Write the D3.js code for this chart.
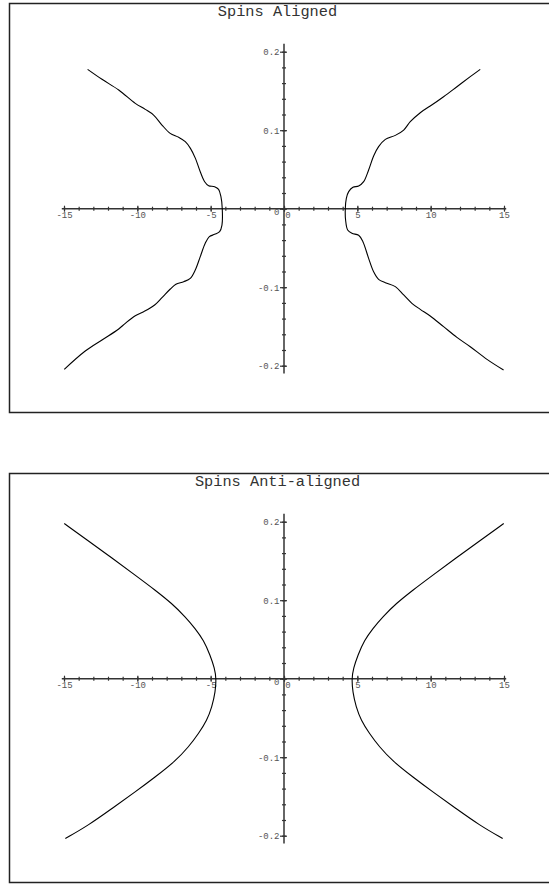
<!DOCTYPE html>
<html>
<head>
<meta charset="utf-8">
<script src="https://cdn.jsdelivr.net/npm/d3@7"></script>
<style>
  body { margin: 0; background: #fff; }
  svg { display: block; }
</style>
</head>
<body>
<svg id="chart" width="549" height="884"></svg>
<script>
// titles and tick labels
const titles = ["Spins Aligned", "Spins Anti-aligned"];
const xLabels = [-15, -10, -5, 0, 5, 10, 15];
const yLabels = [-0.2, -0.1, 0, 0.1, 0.2];

// curves, [x, y]
const alignedLeft = [
    [-13.39, 0.1775], [-12.41, 0.1648], [-11.27, 0.1512], [-10.14, 0.1342], [-9.46, 0.1265],
    [-8.89, 0.1193], [-8.32, 0.1066], [-7.76, 0.0960], [-7.18, 0.0909], [-6.73, 0.0854],
    [-6.38, 0.0769], [-6.04, 0.0641], [-5.71, 0.0471], [-5.41, 0.0344], [-5.14, 0.0293],
    [-4.73, 0.0281], [-4.46, 0.0246], [-4.30, 0.0153], [-4.21, 0.0],
    [-4.23, -0.0208], [-4.39, -0.0293], [-4.73, -0.0327], [-5.09, -0.0356], [-5.37, -0.0441],
    [-5.71, -0.0611], [-6.05, -0.0781], [-6.39, -0.0887], [-6.84, -0.0930], [-7.37, -0.0963],
    [-7.75, -0.1023], [-8.32, -0.1133], [-8.82, -0.1227], [-9.57, -0.1312], [-10.14, -0.1363],
    [-10.82, -0.1460], [-11.27, -0.1533], [-12.41, -0.1673], [-13.55, -0.1813], [-14.98, -0.2046]
];
const alignedRight = [
    [13.38, 0.1775], [12.70, 0.1682], [11.79, 0.1554], [10.88, 0.1427], [9.97, 0.1308],
    [9.29, 0.1223], [8.61, 0.1108], [8.16, 0.1002], [7.59, 0.0934], [6.91, 0.0883],
    [6.45, 0.0790], [6.11, 0.0671], [5.77, 0.0493], [5.43, 0.0344], [5.09, 0.0289],
    [4.70, 0.0272], [4.41, 0.0217], [4.25, 0.0132], [4.18, 0.0],
    [4.20, -0.0144], [4.34, -0.0271], [4.63, -0.0314], [5.09, -0.0339], [5.38, -0.0420],
    [5.77, -0.0632], [6.11, -0.0802], [6.45, -0.0900], [6.91, -0.0942], [7.59, -0.0993],
    [8.16, -0.1099], [8.72, -0.1205], [9.29, -0.1282], [9.97, -0.1367], [10.88, -0.1503],
    [11.79, -0.1639], [12.70, -0.1758], [13.84, -0.1919], [14.97, -0.2055]
];
const antiLeft = [
    [-14.98, 0.1977], [-13.32, 0.1752], [-11.73, 0.1539], [-10.14, 0.1318], [-8.77, 0.1127],
    [-7.64, 0.0958], [-6.73, 0.0788], [-6.05, 0.0639], [-5.48, 0.0490], [-5.03, 0.0299],
    [-4.73, 0.0130], [-4.62, 0.0],
    [-4.68, -0.0168], [-4.91, -0.0359], [-5.25, -0.0529], [-5.82, -0.0698], [-6.50, -0.0868],
    [-7.41, -0.1051], [-8.77, -0.1251], [-10.14, -0.1442], [-11.73, -0.1654], [-13.32, -0.1866],
    [-14.91, -0.2036]
];
const antiRight = [
    [14.98, 0.1977], [13.32, 0.1752], [11.73, 0.1539], [10.14, 0.1318], [8.77, 0.1127],
    [7.64, 0.0958], [6.73, 0.0788], [6.05, 0.0639], [5.48, 0.0490], [5.03, 0.0299],
    [4.73, 0.0130], [4.62, 0.0],
    [4.68, -0.0168], [4.91, -0.0359], [5.25, -0.0529], [5.82, -0.0698], [6.50, -0.0868],
    [7.41, -0.1051], [8.77, -0.1251], [10.14, -0.1442], [11.73, -0.1654], [13.32, -0.1866],
    [14.91, -0.2036]
];

const panels = [
    { title: titles[0], curves: [alignedLeft, alignedRight], curve: d3.curveCatmullRom },
    { title: titles[1], curves: [antiLeft, antiRight], curve: d3.curveBasis }
];

const svg = d3.select('#chart');
const panelStep = 470;
const mono = '"Liberation Mono", "DejaVu Sans Mono", monospace';

const x = d3.scaleLinear().domain([-15, 15]).range([64, 504]);
const y = d3.scaleLinear().domain([-0.2, 0.2]).range([365.7, 51.7]);

panels.forEach(function(p, i) {
    const g = svg.append('g')
        .attr('transform', `translate(0,${i * panelStep})`);

    // frame (right side runs off the page)
    g.append('rect')
        .attr('x', 9.5)
        .attr('y', 3.5)
        .attr('width', 560)
        .attr('height', 409)
        .attr('fill', 'none')
        .attr('stroke', '#222')
        .attr('stroke-width', 1.5);

    g.append('text')
        .attr('x', 277.5)
        .attr('y', 15.5)
        .attr('text-anchor', 'middle')
        .attr('font-family', mono)
        .attr('font-size', 15.3)
        .attr('fill', '#333')
        .text(p.title);

    // axis lines crossing at the origin
    g.append('line')
        .attr('x1', x(-15.15)).attr('x2', x(15.15))
        .attr('y1', y(0)).attr('y2', y(0))
        .attr('stroke', '#333').attr('stroke-width', 1.5);
    g.append('line')
        .attr('x1', x(0)).attr('x2', x(0))
        .attr('y1', y(0.21)).attr('y2', y(-0.21))
        .attr('stroke', '#333').attr('stroke-width', 1.5);

    // x minor ticks
    const xMinor = g.append('g')
        .attr('transform', `translate(0,${y(0)})`)
        .call(d3.axisBottom(x).tickValues(x.ticks(30)).tickSize(2).tickFormat(''));
    xMinor.select('.domain').remove();
    xMinor.selectAll('line').attr('y1', -2).attr('y2', 2).attr('stroke', '#333').attr('stroke-width', 1.2);

    // x major ticks + labels
    const xMajor = g.append('g')
        .attr('transform', `translate(0,${y(0)})`)
        .call(d3.axisBottom(x).tickValues(xLabels).tickSize(3).tickFormat(d => String(d)));
    xMajor.select('.domain').remove();
    xMajor.selectAll('line').attr('y1', -3).attr('y2', 3).attr('stroke', '#333').attr('stroke-width', 1.2);
    xMajor.selectAll('text')
        .attr('y', 3.3)
        .attr('dx', d => d === 0 ? 3.5 : 0)
        .attr('font-family', mono)
        .attr('font-size', 9)
        .attr('fill', '#555');

    // y minor ticks
    const yMinor = g.append('g')
        .attr('transform', `translate(${x(0)},0)`)
        .call(d3.axisLeft(y).tickValues(y.ticks(20)).tickSize(2).tickFormat(''));
    yMinor.select('.domain').remove();
    yMinor.selectAll('line').attr('x1', -2).attr('x2', 2).attr('stroke', '#333').attr('stroke-width', 1.2);

    // y major ticks + labels
    const yMajor = g.append('g')
        .attr('transform', `translate(${x(0)},0)`)
        .call(d3.axisLeft(y).tickValues(yLabels).tickSize(4)
            .tickFormat(d => d === 0 ? '0' : d.toFixed(1)));
    yMajor.select('.domain').remove();
    yMajor.selectAll('line').attr('x1', -4).attr('x2', 3).attr('stroke', '#333').attr('stroke-width', 1.2);
    yMajor.selectAll('text')
        .attr('x', -4.5)
        .attr('y', d => d === 0 ? 3 : 0)
        .attr('font-family', mono)
        .attr('font-size', 9)
        .attr('fill', '#555');

    // curves
    const line = d3.line()
        .x(d => x(d[0]))
        .y(d => y(d[1]))
        .curve(p.curve);

    g.selectAll('path.curve')
        .data(p.curves)
        .enter()
        .append('path')
        .attr('class', 'curve')
        .attr('d', line)
        .attr('fill', 'none')
        .attr('stroke', '#000')
        .attr('stroke-width', 1.1);
});
</script>
</body>
</html>
